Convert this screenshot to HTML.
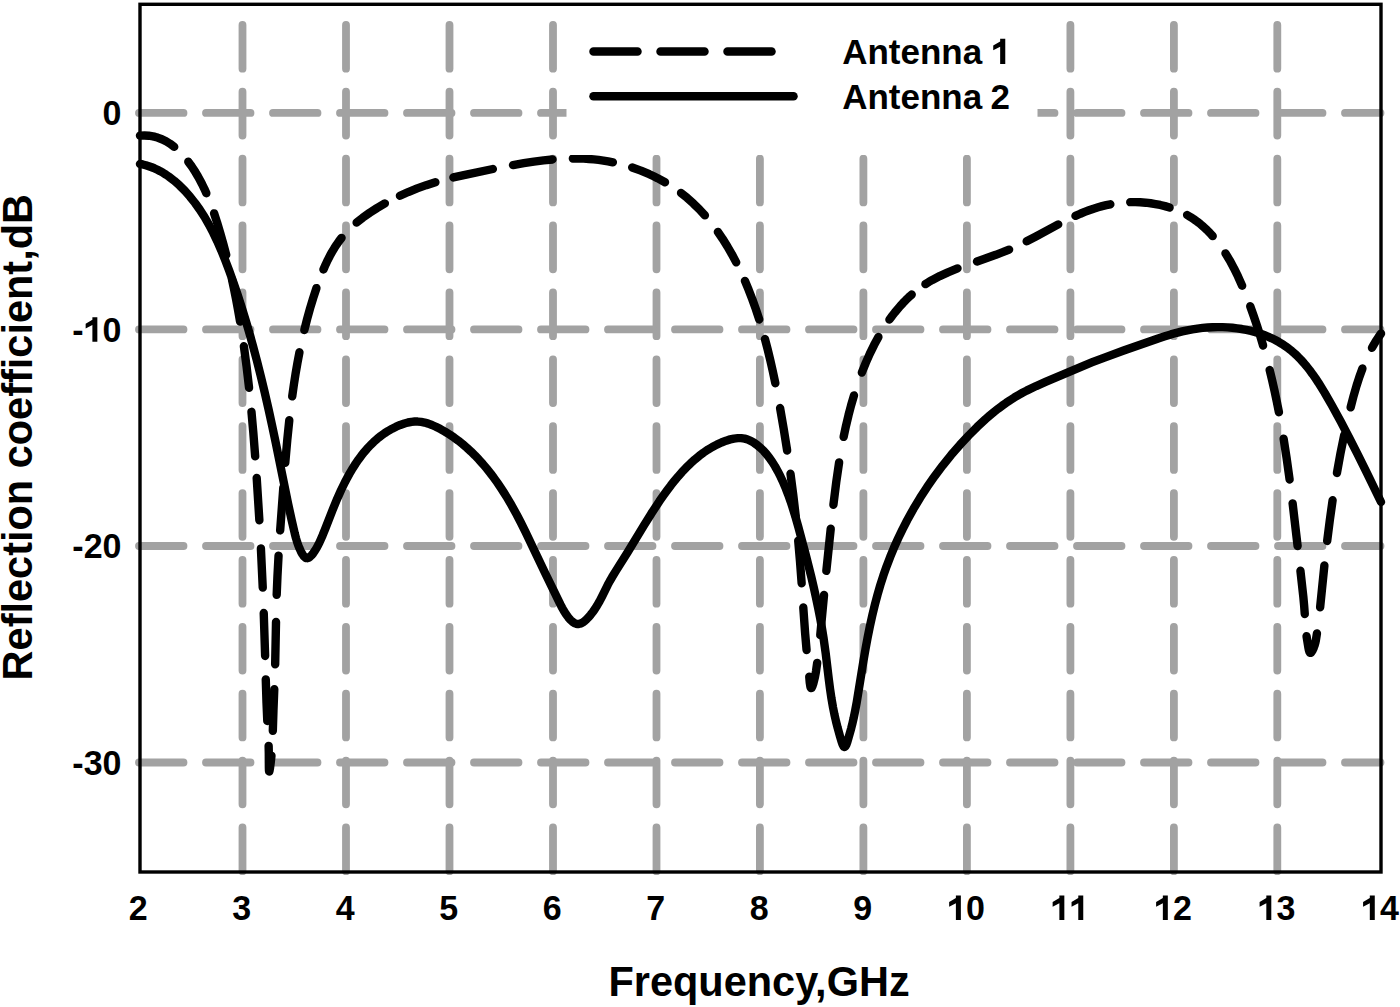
<!DOCTYPE html>
<html><head><meta charset="utf-8"><style>
html,body{margin:0;padding:0;background:#fff;}
body{width:1400px;height:1007px;overflow:hidden;}
svg{display:block}
text{font-family:"Liberation Sans",sans-serif;font-weight:bold;fill:#000}
</style></head><body>
<svg width="1400" height="1007" viewBox="0 0 1400 1007">
<rect width="1400" height="1007" fill="#fff"/>
<g fill="none" stroke="#a2a2a2" stroke-width="7.8" stroke-linecap="round">
<g stroke-dasharray="43.8 23.075"><path d="M242.5 871.2 V4" /><path d="M346.0 871.2 V4" /><path d="M449.5 871.2 V4" /><path d="M553.0 871.2 V4" /><path d="M656.5 871.2 V4" /><path d="M759.9 871.2 V4" /><path d="M863.4 871.2 V4" /><path d="M966.9 871.2 V4" /><path d="M1070.4 871.2 V4" /><path d="M1173.9 871.2 V4" /><path d="M1277.3 871.2 V4" /></g>
<g stroke-dasharray="44.5 22.5"><path d="M139 112.9 H1380.5" /><path d="M139 329.4 H1380.5" /><path d="M139 546.0 H1380.5" /><path d="M139 762.5 H1380.5" /></g>
</g>
<g fill="none" stroke="#000" stroke-width="8.4" stroke-linecap="round" stroke-linejoin="round">
<path d="M140.00 163.89 L142.73 164.46 L145.79 165.25 L148.79 166.19 L151.74 167.25 L154.63 168.45 L157.46 169.77 L160.23 171.21 L163.29 172.96 L165.94 174.63 L168.86 176.63 L174.17 180.72 L179.52 185.45 L184.86 190.81 L190.13 196.78 L195.06 203.00 L199.86 209.75 L204.54 217.02 L209.06 224.83 L213.25 232.83 L217.31 241.33 L221.41 250.70 L225.24 260.20 L229.15 270.53 L233.40 282.40 L237.59 294.70 L241.59 307.05 L245.41 319.45 L249.18 332.29 L252.89 345.55 L256.92 360.76 L260.87 376.41 L264.72 392.49 L268.66 409.78 L272.11 425.57 L275.61 442.17 L288.24 504.33 L291.63 519.99 L294.79 533.62 L295.96 538.14 L297.08 541.89 L298.23 545.26 L299.58 548.61 L300.95 551.59 L302.38 554.14 L303.86 556.20 L305.02 557.36 L305.64 557.80 L306.28 558.09 L307.28 558.18 L307.97 558.01 L308.65 557.69 L310.00 556.75 L311.56 555.27 L313.25 553.23 L314.97 550.71 L316.66 547.90 L319.39 542.59 L322.55 535.43 L325.31 528.61 L332.68 509.75 L337.24 498.71 L341.12 490.02 L344.91 482.21 L347.47 477.33 L350.15 472.53 L352.76 468.16 L355.50 463.87 L358.38 459.69 L361.17 455.91 L364.10 452.24 L366.90 448.97 L370.37 445.24 L373.72 441.96 L377.23 438.84 L380.89 435.89 L384.72 433.14 L388.37 430.80 L392.17 428.65 L396.11 426.70 L400.20 424.96 L404.43 423.47 L407.95 422.50 L411.50 421.83 L414.63 421.54 L417.73 421.56 L421.17 421.91 L424.57 422.58 L428.29 423.65 L431.95 425.00 L435.90 426.75 L440.46 429.08 L444.91 431.59 L449.58 434.49 L454.12 437.57 L458.53 440.83 L462.82 444.26 L466.99 447.84 L471.03 451.57 L474.96 455.45 L478.78 459.45 L482.74 463.87 L486.58 468.41 L490.53 473.38 L493.88 477.83 L497.35 482.68 L500.70 487.60 L503.95 492.60 L507.08 497.64 L510.30 503.07 L516.78 514.74 L520.94 522.71 L525.47 531.80 L545.08 572.98 L560.49 604.61 L562.26 608.03 L563.81 610.78 L566.02 614.24 L568.32 617.39 L570.33 619.72 L572.48 621.73 L574.41 623.05 L576.07 623.75 L577.76 624.03 L578.79 623.97 L579.81 623.75 L581.18 623.25 L582.88 622.31 L584.55 621.09 L586.50 619.36 L588.38 617.41 L590.71 614.69 L592.82 611.97 L594.75 609.25 L597.13 605.51 L599.64 601.11 L601.92 596.71 L607.79 584.86 L609.80 581.13 L612.14 577.05 L616.07 570.60 L627.80 551.98 L644.27 524.89 L651.26 513.66 L659.42 501.22 L663.47 495.38 L667.21 490.21 L670.82 485.43 L674.56 480.71 L678.16 476.41 L681.86 472.21 L686.25 467.57 L690.50 463.40 L694.90 459.43 L699.14 455.92 L703.52 452.64 L708.04 449.58 L712.37 446.98 L716.83 444.61 L721.41 442.49 L726.14 440.65 L730.23 439.38 L733.99 438.55 L737.79 438.13 L741.21 438.16 L744.63 438.64 L747.65 439.50 L750.64 440.81 L753.93 442.74 L757.07 445.00 L760.61 447.98 L763.82 451.11 L766.72 454.36 L769.60 458.04 L772.23 461.84 L775.06 466.40 L777.87 471.43 L780.67 476.93 L783.28 482.56 L785.86 488.66 L788.26 494.88 L790.63 501.56 L793.09 509.08 L795.51 517.06 L798.24 526.63 L805.72 554.58 L811.34 577.10 L813.83 587.79 L816.03 597.73 L818.19 608.07 L820.13 618.06 L821.92 628.09 L823.50 637.77 L825.70 653.35 L828.76 678.89 L830.02 688.73 L831.47 698.54 L833.03 707.54 L834.44 714.51 L836.07 721.62 L837.68 727.97 L839.94 736.09 L841.49 741.39 L842.45 744.13 L843.45 746.16 L843.96 746.76 L844.30 746.96 L844.64 746.98 L844.98 746.82 L845.66 746.03 L846.49 744.33 L847.29 742.11 L851.14 728.53 L852.41 723.50 L853.66 718.06 L855.18 710.63 L856.78 701.90 L863.49 660.55 L865.59 648.44 L867.63 637.53 L869.97 625.89 L872.36 615.09 L874.86 604.74 L877.48 594.84 L880.33 585.02 L883.32 575.67 L886.56 566.41 L890.19 556.88 L893.94 547.82 L898.09 538.51 L902.50 529.31 L907.17 520.24 L913.44 508.92 L920.12 497.81 L927.17 486.92 L934.84 475.95 L942.65 465.56 L951.08 455.11 L959.88 444.95 L968.77 435.37 L977.16 426.95 L985.56 419.15 L989.73 415.52 L993.97 412.00 L997.98 408.83 L1002.06 405.77 L1006.21 402.81 L1010.10 400.19 L1014.39 397.47 L1018.41 395.07 L1022.50 392.78 L1026.66 390.61 L1036.18 386.04 L1045.52 381.92 L1081.04 366.80 L1092.34 362.21 L1104.47 357.55 L1123.69 350.56 L1158.17 338.43 L1164.88 336.24 L1170.89 334.40 L1176.56 332.82 L1182.28 331.38 L1187.29 330.28 L1192.34 329.34 L1197.44 328.56 L1202.58 327.94 L1207.74 327.49 L1212.52 327.22 L1217.71 327.11 L1222.49 327.16 L1227.65 327.39 L1232.40 327.77 L1237.12 328.31 L1241.80 329.02 L1246.43 329.89 L1251.01 330.93 L1255.53 332.15 L1259.98 333.54 L1263.99 334.97 L1267.93 336.56 L1271.80 338.30 L1275.23 340.01 L1278.93 342.05 L1282.21 344.04 L1285.71 346.39 L1288.81 348.67 L1291.81 351.08 L1295.01 353.89 L1297.82 356.58 L1300.82 359.66 L1303.72 362.87 L1306.78 366.51 L1309.74 370.27 L1312.60 374.13 L1315.60 378.43 L1318.51 382.82 L1324.71 392.85 L1331.96 405.51 L1340.74 421.58 L1348.94 437.19 L1357.56 454.16 L1366.86 472.95 L1381.01 502.00"/>
<path d="M139.96 135.64 L144.45 135.47 L148.77 135.72 L152.94 136.37 L155.25 136.91 L157.50 137.57 L161.87 139.22 L166.04 141.29 L170.02 143.73 L174.24 146.85"/><path d="M188.28 161.67 L190.84 165.18 L193.24 168.73 L195.52 172.33 L197.99 176.50 L200.04 180.20 L202.26 184.48 L204.36 188.81 L206.35 193.19"/><path d="M214.11 213.35 L217.09 222.51 L220.21 232.89 L223.31 243.91 L226.20 254.90"/><path d="M231.93 279.13 L234.04 289.07 L236.16 299.74 L238.14 310.43 L240.08 321.64"/><path d="M243.88 346.24 L246.60 366.70 L249.05 387.79"/><path d="M251.48 411.81 L253.34 432.92 L255.17 456.38"/><path d="M256.70 477.95 L259.37 520.34"/><path d="M260.91 548.45 L262.74 587.60"/><path d="M263.74 613.02 L265.13 655.96"/><path d="M265.77 679.35 L266.53 703.18 L267.30 721.02"/><path d="M268.64 745.88 L268.80 753.06 L268.88 767.66 L268.98 770.31 L269.13 771.41 L269.24 771.53 L269.30 771.47 L269.51 770.82 L270.03 767.78 L270.70 762.60 L271.45 755.74"/><path d="M272.82 730.88 L273.44 710.78 L274.28 689.21"/><path d="M275.17 664.33 L276.01 622.03"/><path d="M276.69 594.89 L277.46 576.15 L278.55 555.65"/><path d="M280.17 530.43 L283.30 487.72"/><path d="M285.25 462.90 L287.26 440.13 L289.29 420.27"/><path d="M292.21 396.36 L293.82 385.00 L295.59 373.69 L297.43 363.00 L299.46 352.33"/><path d="M304.35 330.00 L307.16 318.87 L310.06 308.39 L313.21 297.96 L316.44 288.11"/><path d="M323.46 269.44 L325.66 264.43 L327.72 260.07 L329.91 255.80 L331.93 252.14 L334.38 248.04 L336.65 244.55 L339.04 241.16 L341.54 237.89"/><path d="M356.62 222.57 L362.77 217.67 L369.71 212.73 L376.90 208.12 L384.87 203.48"/><path d="M399.92 195.77 L408.24 192.04 L417.19 188.42 L426.25 185.15 L435.40 182.22"/><path d="M453.36 177.43 L467.42 174.28 L492.87 169.01"/><path d="M513.01 165.06 L523.79 163.18 L533.95 161.61 L543.52 160.37 L552.50 159.46"/><path d="M572.86 158.46 L578.23 158.49 L583.62 158.66 L589.00 158.97 L593.78 159.37 L598.55 159.90 L603.33 160.56 L608.10 161.35 L612.91 162.30"/><path d="M632.18 167.50 L640.87 170.63 L649.31 174.18 L653.73 176.25 L657.54 178.16 L665.02 182.28"/><path d="M681.03 192.97 L687.10 197.84 L693.34 203.40 L699.28 209.27 L704.93 215.39"/><path d="M717.89 231.86 L722.62 238.82 L727.41 246.49 L731.93 254.34 L736.21 262.39"/><path d="M744.95 280.95 L748.69 289.91 L752.38 299.48 L755.83 309.13 L759.23 319.44"/><path d="M764.98 339.07 L767.73 349.59 L770.30 360.15 L772.82 371.34 L775.32 383.20"/><path d="M780.08 408.08 L783.71 428.96 L787.14 450.48"/><path d="M790.50 473.73 L793.23 494.69 L795.70 515.98"/><path d="M798.21 540.76 L799.98 561.10 L801.64 583.28"/><path d="M803.29 607.43 L805.16 633.59 L806.57 650.01"/><path d="M809.25 676.64 L809.76 682.60 L810.34 686.48 L810.72 687.65 L811.01 688.05 L811.34 688.09 L811.51 687.97 L811.89 687.43 L812.51 686.02 L813.35 683.42 L814.90 677.29 L815.99 671.44 L817.18 662.88"/><path d="M820.27 635.16 L824.03 594.87"/><path d="M826.35 570.88 L830.73 528.75"/><path d="M833.42 504.80 L836.26 482.03 L839.12 462.35"/><path d="M843.64 436.91 L846.02 425.72 L848.52 415.19 L851.12 405.28 L854.00 395.40"/><path d="M861.85 372.54 L865.77 362.83 L869.75 353.87 L874.05 345.06 L878.42 336.95"/><path d="M889.39 319.64 L892.23 315.76 L894.80 312.46 L900.15 306.10 L902.95 303.04 L905.83 300.08 L908.78 297.22 L911.75 294.52"/><path d="M925.41 284.11 L928.81 281.98 L932.38 279.91 L939.74 276.07 L947.91 272.34 L957.52 268.45"/><path d="M977.00 261.47 L995.80 254.83 L1002.73 252.19 L1009.09 249.59"/><path d="M1026.66 241.32 L1035.90 236.48 L1058.26 224.42"/><path d="M1075.42 215.90 L1080.28 213.75 L1084.67 211.94 L1089.10 210.24 L1093.58 208.67 L1098.12 207.25 L1102.13 206.13 L1106.20 205.13 L1110.36 204.27"/><path d="M1130.23 202.15 L1135.26 202.12 L1140.19 202.28 L1145.73 202.69 L1150.61 203.26 L1155.46 204.03 L1160.25 204.99 L1164.96 206.15 L1169.60 207.51"/><path d="M1187.10 215.00 L1190.52 217.01 L1193.91 219.22 L1197.20 221.58 L1200.37 224.07 L1203.44 226.70 L1206.82 229.86 L1209.67 232.75 L1212.74 236.13"/><path d="M1225.49 253.34 L1229.85 260.61 L1233.92 268.14 L1238.00 276.45 L1242.13 285.68"/><path d="M1250.23 306.26 L1253.61 315.73 L1256.95 325.64 L1260.10 335.55 L1263.08 345.52"/><path d="M1269.67 369.98 L1272.08 379.94 L1274.46 390.48 L1276.70 401.03 L1278.91 412.17"/><path d="M1283.60 438.68 L1286.62 458.15 L1289.60 479.50"/><path d="M1292.62 503.33 L1297.60 546.05"/><path d="M1300.43 570.77 L1303.30 596.45 L1304.14 605.56 L1304.77 614.03"/><path d="M1306.55 636.27 L1308.30 647.18 L1308.90 650.17 L1309.26 651.39 L1309.68 652.31 L1310.15 652.82 L1310.41 652.90 L1310.69 652.84 L1310.99 652.66 L1311.62 651.96 L1312.60 650.32 L1313.77 647.69 L1314.68 645.14 L1315.36 642.69 L1315.86 640.33 L1316.96 633.41"/><path d="M1320.13 607.23 L1324.38 565.48"/><path d="M1327.18 540.93 L1329.84 519.98 L1332.60 500.28"/><path d="M1336.94 472.94 L1340.49 453.35 L1344.21 434.98"/><path d="M1350.62 407.35 L1353.70 395.56 L1356.57 385.66 L1359.35 377.02 L1362.44 368.50"/><path d="M1371.99 347.79 L1374.08 344.13 L1376.27 340.53 L1378.59 336.99 L1381.04 333.52"/>
</g>
<rect x="140.0" y="4.3" width="1241.0" height="867.7" fill="none" stroke="#000" stroke-width="3.4"/>
<g transform="translate(102.59 124.60) scale(1 1.035)" font-size="34"><text x="0.00" y="0">0</text></g><g transform="translate(72.36 341.70) scale(1 1.035)" font-size="34"><text x="0.00" y="0">-</text><path d="M24.99 0.00 L24.99 -23.73 L20.03 -23.73 L20.03 -21.25 L13.29 -17.37 L13.29 -12.85 L20.03 -16.22 L20.03 0.00Z"/><text x="30.23" y="0">0</text></g><g transform="translate(72.36 558.30) scale(1 1.035)" font-size="34"><text x="0.00" y="0">-20</text></g><g transform="translate(72.36 774.60) scale(1 1.035)" font-size="34"><text x="0.00" y="0">-30</text></g>
<g transform="translate(128.81 920.00) scale(1 1.035)" font-size="34"><text x="0.00" y="0">2</text></g><g transform="translate(232.29 920.00) scale(1 1.035)" font-size="34"><text x="0.00" y="0">3</text></g><g transform="translate(335.77 920.00) scale(1 1.035)" font-size="34"><text x="0.00" y="0">4</text></g><g transform="translate(439.25 920.00) scale(1 1.035)" font-size="34"><text x="0.00" y="0">5</text></g><g transform="translate(542.73 920.00) scale(1 1.035)" font-size="34"><text x="0.00" y="0">6</text></g><g transform="translate(646.21 920.00) scale(1 1.035)" font-size="34"><text x="0.00" y="0">7</text></g><g transform="translate(749.69 920.00) scale(1 1.035)" font-size="34"><text x="0.00" y="0">8</text></g><g transform="translate(853.17 920.00) scale(1 1.035)" font-size="34"><text x="0.00" y="0">9</text></g><g transform="translate(947.19 920.00) scale(1 1.035)" font-size="34"><path d="M13.67 0.00 L13.67 -23.73 L8.70 -23.73 L8.70 -21.25 L1.97 -17.37 L1.97 -12.85 L8.70 -16.22 L8.70 0.00Z"/><text x="18.91" y="0">0</text></g><g transform="translate(1050.67 920.00) scale(1 1.035)" font-size="34"><path d="M13.67 0.00 L13.67 -23.73 L8.70 -23.73 L8.70 -21.25 L1.97 -17.37 L1.97 -12.85 L8.70 -16.22 L8.70 0.00Z"/><path d="M32.58 0.00 L32.58 -23.73 L27.61 -23.73 L27.61 -21.25 L20.88 -17.37 L20.88 -12.85 L27.61 -16.22 L27.61 0.00Z"/></g><g transform="translate(1154.15 920.00) scale(1 1.035)" font-size="34"><path d="M13.67 0.00 L13.67 -23.73 L8.70 -23.73 L8.70 -21.25 L1.97 -17.37 L1.97 -12.85 L8.70 -16.22 L8.70 0.00Z"/><text x="18.91" y="0">2</text></g><g transform="translate(1257.63 920.00) scale(1 1.035)" font-size="34"><path d="M13.67 0.00 L13.67 -23.73 L8.70 -23.73 L8.70 -21.25 L1.97 -17.37 L1.97 -12.85 L8.70 -16.22 L8.70 0.00Z"/><text x="18.91" y="0">3</text></g><g transform="translate(1361.11 920.00) scale(1 1.035)" font-size="34"><path d="M13.67 0.00 L13.67 -23.73 L8.70 -23.73 L8.70 -21.25 L1.97 -17.37 L1.97 -12.85 L8.70 -16.22 L8.70 0.00Z"/><text x="18.91" y="0">4</text></g>
<text transform="translate(608.4 996.1) scale(1 1.035)" font-size="41.5">Frequency,GHz</text>
<text transform="translate(32.3 437.2) rotate(-90) scale(1 1.035)" font-size="41.5" text-anchor="middle">Reflection coefficient,dB</text>
<rect x="566.5" y="6" width="471" height="149" fill="#fff"/>
<g fill="none" stroke="#000" stroke-width="8.5" stroke-linecap="round">
<path d="M593.5 51.5 H776" stroke-dasharray="44 23"/>
<path d="M593.5 96.2 H793.5"/>
</g>
<g font-size="35">
<text transform="translate(842.2 63.9) scale(1 1.025)">Antenna</text>
<text transform="translate(842.2 108.5) scale(1 1.025)">Antenna</text>
</g>
<path transform="translate(991.2 63.9) scale(1 1.025)" d="M14.07 0.00 L14.07 -24.43 L8.96 -24.43 L8.96 -21.88 L2.03 -17.89 L2.03 -13.23 L8.96 -16.70 L8.96 0.00Z"/>
<text transform="translate(990.6 108.5) scale(1 1.025)" font-size="35">2</text>
</svg>
</body></html>
